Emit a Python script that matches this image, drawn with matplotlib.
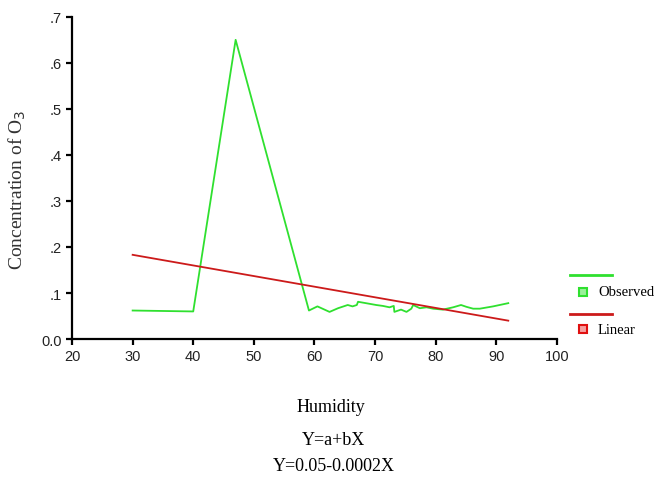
import matplotlib
matplotlib.use("Agg")
import matplotlib.pyplot as plt
from matplotlib.lines import Line2D

# Observed data
obs_x = [30, 40, 47, 59.1, 60.5, 62.5, 63.9, 65.5, 66.3, 67.0, 67.2, 68.5, 70.2, 71.3,
         72.4, 73.1, 73.2, 74.3, 75.2, 76.0, 76.3, 77.4, 78.5, 79.6, 81.2, 82.9,
         84.2, 85.1, 86.2, 87.3, 89.5, 92]
obs_y = [0.062, 0.060, 0.650, 0.062, 0.071, 0.059, 0.067, 0.074, 0.071, 0.074, 0.081,
         0.078, 0.074, 0.072, 0.069, 0.072, 0.059, 0.064, 0.059, 0.066, 0.074, 0.067,
         0.069, 0.066, 0.064, 0.069, 0.074, 0.070, 0.066, 0.066, 0.071, 0.078]
# Linear fit line
lin_x = [30, 92]
lin_y = [0.183, 0.040]

x_ticks = [20, 30, 40, 50, 60, 70, 80, 90, 100]
y_ticks = [0.0, 0.1, 0.2, 0.3, 0.4, 0.5, 0.6, 0.7]
y_tick_labels = ["0.0", ".1", ".2", ".3", ".4", ".5", ".6", ".7"]

green = "#2fe02f"
red = "#cc1a1a"

fig = plt.figure(figsize=(6.55, 4.81), dpi=100)
ax = fig.add_axes([0.110, 0.293, 0.740, 0.670])

ax.plot(obs_x, obs_y, color=green, lw=1.3)
ax.plot(lin_x, lin_y, color=red, lw=1.3)

ax.set_xlim(20, 100)
ax.set_ylim(0, 0.7)
ax.set_xticks(x_ticks)
ax.set_yticks(y_ticks)
ax.set_yticklabels(y_tick_labels)
for s in ["top", "right"]:
    ax.spines[s].set_visible(False)
for s in ["left", "bottom"]:
    ax.spines[s].set_linewidth(1.6)
ax.tick_params(direction="out", length=4, width=1.6, labelsize=10.5, colors="black")
for lab in ax.get_xticklabels() + ax.get_yticklabels():
    lab.set_family("Liberation Sans")
    lab.set_color("#222222")

serif = "Liberation Serif"
fig.text(0.026, 0.605, "Concentration of O$_3$", rotation=90, ha="center", va="center",
         fontsize=14, family=serif, color="#333333")
fig.text(0.505, 0.152, "Humidity", ha="center", va="center", fontsize=13, family=serif)
fig.text(0.509, 0.085, "Y=a+bX", ha="center", va="center", fontsize=13, family=serif)
fig.text(0.509, 0.030, "Y=0.05-0.0002X", ha="center", va="center", fontsize=13, family=serif)

# Legend (outside axes on the right)
W, H = 655.0, 481.0
def fx(px): return px / W
def fy(py): return 1 - py / H
fig.add_artist(Line2D([fx(570), fx(612)], [fy(276), fy(276)], color=green, lw=2))
fig.add_artist(Line2D([fx(583)], [fy(293)], marker="s", ms=6, mfc="#9af09a", mec=green, mew=1.5, ls=""))
fig.text(fx(598), fy(293), "Observed", ha="left", va="center", fontsize=10.5, family=serif)
fig.add_artist(Line2D([fx(570), fx(612)], [fy(315), fy(315)], color=red, lw=2))
fig.add_artist(Line2D([fx(583)], [fy(330)], marker="s", ms=6, mfc="#f5a0a0", mec="#e01010", mew=1.5, ls=""))
fig.text(fx(598), fy(330), "Linear", ha="left", va="center", fontsize=10.5, family=serif)

fig.savefig("out.png", dpi=100)
